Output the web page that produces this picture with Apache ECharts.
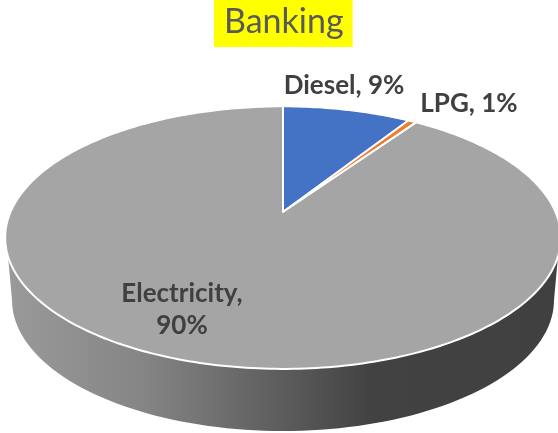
<!DOCTYPE html>
<html>
<head>
<meta charset="utf-8">
<style>html,body{margin:0;padding:0;background:#fff}#c{width:558px;height:433px}</style>
<script src="https://cdn.jsdelivr.net/npm/echarts@6/dist/echarts.min.js"></script>
</head>
<body>
<div id="c"></div>
<script>
const chartTitle = 'Banking';
const categories = ['Diesel', 'LPG', 'Electricity'];
const shares = [9, 0.6, 90.4];
const sliceColors = ['#4472c4', '#ed7d31', '#a5a5a5'];
const labelLines = [['Diesel, ' + Math.round(shares[0]) + '%'], ['LPG, ' + Math.round(shares[1]) + '%'], ['Electricity,', Math.round(shares[2]) + '%']];
const labelAnchors = [[344, 86], [469, 104], [182, 310]];

// Perspective projection of a unit disk: apex (283,212)
const CX = 283, CY = 212, A = 272.5, B = 126.3, K = 0.195;
function project(deg) {
  const t = deg * Math.PI / 180, u = Math.sin(t), v = Math.cos(t), d = 1 + K * v;
  return [CX + A * u / d, CY - B * v / d];
}
function arcPoints(from, to) {
  const pts = [], n = Math.max(2, Math.ceil(Math.abs(to - from)));
  for (let i = 0; i <= n; i++) pts.push(project(from + (to - from) * i / n));
  return pts;
}
const total = shares.reduce((a, b) => a + b, 0);
function sliceStart(i) {
  let s = 0;
  for (let j = 0; j < i; j++) s += shares[j];
  return s / total * 360;
}
// Wall: lower rim under the top rim
const WALL = {cy: 300, rx: 271, ry: 131};
function wallPoints() {
  const top = arcPoints(262, 98);
  const low = [];
  for (let a = 90; a >= -90; a -= 2) {
    const t = a * Math.PI / 180;
    low.push([CX + WALL.rx * Math.sin(t), WALL.cy + WALL.ry * Math.cos(t)]);
  }
  return top.concat(low);
}

const option = {
  backgroundColor: '#ffffff',
  animation: false,
  title: {
    text: chartTitle, left: 214, top: 0,
    backgroundColor: '#ffff00',
    padding: [3, 9, 5, 10],
    textStyle: {fontFamily: 'Lato', fontSize: 34, fontWeight: 'normal', color: '#595959', lineHeight: 39}
  },
  series: [
    {
      type: 'custom', coordinateSystem: 'none', silent: true, data: [[1]],
      renderItem: function () {
        return {
          type: 'polygon', shape: {points: wallPoints()},
          style: {
            fill: new echarts.graphic.LinearGradient(0, 0, 1, 0, [
              {offset: 0, color: '#9a9a9a'},
              {offset: 0.25, color: '#858585'},
              {offset: 0.5, color: '#5c5c5c'},
              {offset: 0.66, color: '#424242'},
              {offset: 1, color: '#404040'}
            ]),
            stroke: null
          }
        };
      }
    },
    {
      type: 'custom', coordinateSystem: 'none', silent: true,
      data: categories.map((c, i) => [i, shares[i]]),
      renderItem: function (params, api) {
        const i = api.value(0);
        const from = sliceStart(i), to = from + api.value(1) / total * 360;
        return {
          type: 'polygon', z2: 1,
          shape: {points: [[CX, CY]].concat(arcPoints(from, to))},
          style: {fill: sliceColors[i], stroke: '#ffffff', lineWidth: 2, lineJoin: 'round'}
        };
      }
    },
    {
      type: 'custom', coordinateSystem: 'none', silent: true, z: 5,
      data: categories.map((c, i) => [i]),
      renderItem: function (params, api) {
        const i = api.value(0);
        return {
          type: 'text', x: labelAnchors[i][0], y: labelAnchors[i][1],
          style: {
            text: labelLines[i].join('\n'),
            font: 'bold 26px Lato', lineHeight: 32,
            fill: '#404040', align: 'center', verticalAlign: 'middle'
          }
        };
      }
    }
  ]
};
const chart = echarts.init(document.getElementById('c'), null, {renderer: 'canvas'});
chart.setOption(option);
</script>
</body>
</html>
